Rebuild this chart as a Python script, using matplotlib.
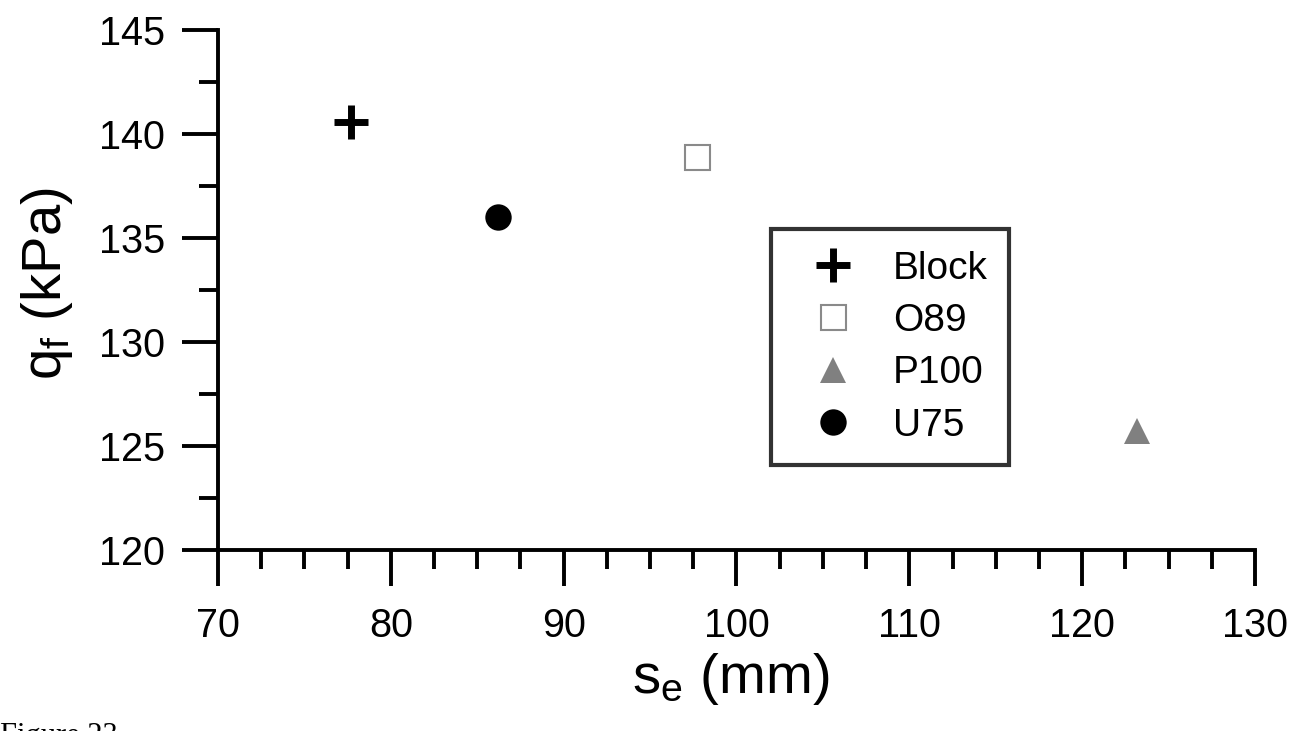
import matplotlib
matplotlib.use("Agg")
import matplotlib.pyplot as plt
from matplotlib.ticker import MultipleLocator

plt.rcParams['font.family'] = ['Liberation Sans', 'DejaVu Sans']
plt.rcParams['mathtext.fontset'] = 'custom'
plt.rcParams['mathtext.rm'] = 'Liberation Sans'
plt.rcParams['mathtext.it'] = 'Liberation Sans:italic'

# Data
labels = ['Block', 'O89', 'P100', 'U75']
se_mm = [77.7, 97.7, 123.2, 86.2]
qf_kpa = [140.6, 138.9, 125.7, 136.0]

x_ticks = [70, 80, 90, 100, 110, 120, 130]
y_ticks = [120, 125, 130, 135, 140, 145]

styles = {
    'Block': dict(marker='+', color='black', markersize=25, markeredgewidth=5),
    'O89': dict(marker='s', markerfacecolor='white', markeredgecolor='#8a8a8a', markersize=18, markeredgewidth=1.5),
    'P100': dict(marker='^', color='#808080', markersize=19, markeredgewidth=0),
    'U75': dict(marker='o', color='black', markersize=19, markeredgewidth=0),
}

fig = plt.figure(figsize=(13.03, 7.31), dpi=100)
ax = fig.add_axes([218/1303, 1-550/731, (1255-218)/1303, (550-30)/731])

for lab, x, y in zip(labels, se_mm, qf_kpa):
    ax.plot([x], [y], linestyle='none', label=lab, **styles[lab])

ax.set_xlim(70, 130)
ax.set_ylim(120, 145)
ax.set_xticks(x_ticks)
ax.set_yticks(y_ticks)
ax.xaxis.set_minor_locator(MultipleLocator(2.5))
ax.yaxis.set_minor_locator(MultipleLocator(2.5))

for side in ['top', 'right']:
    ax.spines[side].set_visible(False)
for side in ['left', 'bottom']:
    ax.spines[side].set_linewidth(2.8)

ax.tick_params(which='major', direction='out', length=26, width=2.8, labelsize=28.5)
ax.tick_params(axis='x', which='major', pad=15)
ax.tick_params(axis='y', which='major', pad=12)
ax.tick_params(which='minor', direction='out', length=14, width=2.8)

ax.set_xlabel(r's$_{\mathrm{e}}$ (mm)', fontsize=40.5)
ax.set_ylabel(r'q$_{\mathrm{f}}$ (kPa)', fontsize=40.5)
ax.xaxis.set_label_coords(0.494, -0.195)
ax.yaxis.set_label_coords(-0.138, 0.513)

leg = ax.legend(loc='upper left', bbox_to_anchor=(0.533, 0.617), borderaxespad=0,
                fontsize=28, frameon=True, fancybox=False, edgecolor='black',
                borderpad=0.55, handlelength=2.1, handletextpad=0.5,
                labelspacing=0.42, numpoints=1, markerscale=1.0)
leg.get_frame().set_linewidth(3)

fig.text(0.0, 1-722/731, 'Figure 23', family=['Liberation Serif', 'DejaVu Serif'],
         fontsize=22, va='top', ha='left')

fig.savefig('out.png', dpi=100)
